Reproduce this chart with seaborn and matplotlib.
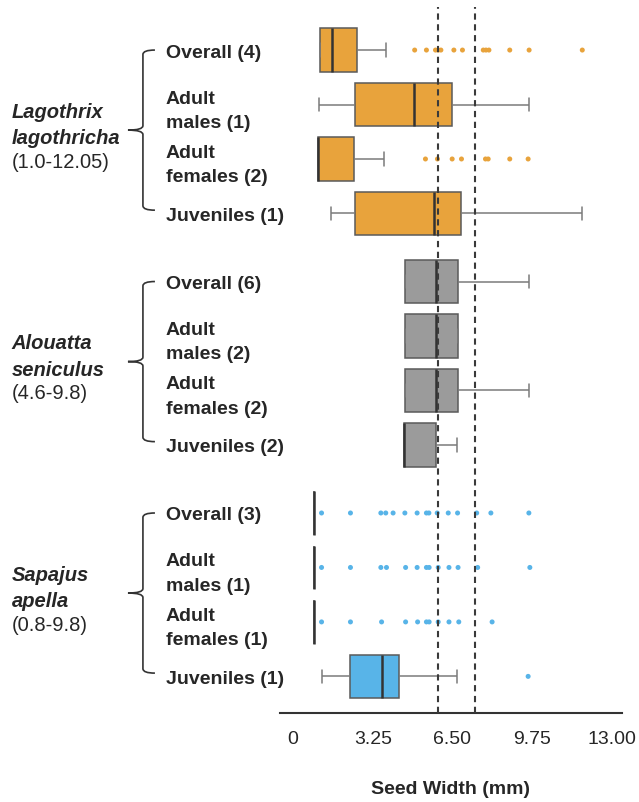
""" Seed width boxplots per primate species and age/sex class """

import numpy as np
import pandas as pd
import matplotlib.pyplot as plt
import seaborn as sns
from matplotlib.path import Path
from matplotlib.patches import PathPatch
from matplotlib.transforms import blended_transform_factory

# Species, ranges and row labels
species = ["Lagothrix lagothricha", "Alouatta seniculus", "Sapajus apella"]
species_ranges = ["(1.0-12.05)", "(4.6-9.8)", "(0.8-9.8)"]
row_labels = ["Overall (4)", "Adult\nmales (1)", "Adult\nfemales (2)", "Juveniles (1)",
              "Overall (6)", "Adult\nmales (2)", "Adult\nfemales (2)", "Juveniles (2)",
              "Overall (3)", "Adult\nmales (1)", "Adult\nfemales (1)", "Juveniles (1)"]

# Box summaries (mm): whisker low, Q1, median, Q3, whisker high
whisk_lo = [1.09, 1.06, 1.02, 1.54, 4.56, 4.56, 4.56, 4.53, 0.86, 0.86, 0.86, 1.16]
q1 = [1.09, 2.53, 1.02, 2.52, 4.56, 4.56, 4.56, 4.53, 0.86, 0.86, 0.86, 2.31]
median = [1.59, 4.95, 1.02, 5.76, 5.85, 5.85, 5.85, 4.53, 0.86, 0.86, 0.86, 3.61]
q3 = [2.59, 6.50, 2.50, 6.87, 6.72, 6.72, 6.72, 5.82, 0.86, 0.86, 0.86, 4.31]
whisk_hi = [3.77, 9.63, 3.71, 11.77, 9.63, 6.72, 9.63, 6.69, 0.86, 0.86, 0.86, 6.69]

# Outlying seeds per row
outliers = [
    [4.96, 5.44, 5.81, 5.92, 6.03, 6.56, 6.91, 7.76, 7.87, 7.99, 8.84, 9.63, 11.80],
    [],
    [5.40, 5.89, 6.49, 6.87, 7.85, 7.96, 8.84, 9.59],
    [],
    [], [], [], [],
    [1.16, 2.34, 3.58, 3.78, 4.08, 4.56, 5.06, 5.44, 5.54, 5.88, 6.33, 6.71, 7.49, 8.07, 9.62],
    [1.16, 2.34, 3.58, 3.81, 4.59, 5.06, 5.44, 5.55, 5.92, 6.36, 6.73, 7.53, 9.66],
    [1.16, 2.34, 3.61, 4.59, 5.08, 5.44, 5.55, 5.92, 6.36, 6.76, 8.12],
    [9.59],
]

# Reference lines (mm)
ref_lines = [5.92, 7.44]

palette = {"Lagothrix lagothricha": "#E8A33C", "Alouatta seniculus": "#9B9B9B", "Sapajus apella": "#58B4E8"}

# Row positions: 4 rows per species with a gap between species
n_rows = 4
gap = 1.25
positions = [g * (n_rows - 1 + gap) + r for g in range(len(species)) for r in range(n_rows)]
row_species = [s for s in species for _ in range(n_rows)]

# Long table: five values per row reproduce the box summary
box_rows = []
for i in range(len(positions)):
    for v in (whisk_lo[i], q1[i], median[i], q3[i], whisk_hi[i]):
        box_rows.append({"pos": positions[i], "species": row_species[i], "width": v})
boxDf = pd.DataFrame(box_rows)

out_rows = []
for i, vals in enumerate(outliers):
    for v in vals:
        out_rows.append({"pos": positions[i], "species": row_species[i], "width": v})
outDf = pd.DataFrame(out_rows)

sns.set_style("white")
plt.rcParams["font.family"] = ["Liberation Sans", "DejaVu Sans"]

fig = plt.figure(figsize=(6.39, 8.03), dpi=100)
ax = fig.add_axes([0.438, 0.111, 0.535, 0.879])

sns.boxplot(data=boxDf, x="width", y="pos", hue="species", palette=palette, orient="y",
            native_scale=True, width=0.8, showfliers=False, legend=False,
            linecolor="#5a5a5a", linewidth=1.1, saturation=1,
            medianprops={"color": "#333333", "linewidth": 1.8},
            whiskerprops={"color": "#7a7a7a"}, capprops={"color": "#7a7a7a"},
            capwidths=0.25, ax=ax)

sns.scatterplot(data=outDf, x="width", y="pos", hue="species", palette=palette,
                s=13, linewidth=0, legend=False, ax=ax, zorder=3)

for v in ref_lines:
    ax.axvline(v, color="#3a3a3a", linestyle=(0, (3, 2.2)), linewidth=1.5, zorder=5)

# Axes
ax.set_xlim(-0.54, 13.41)
ax.set_ylim(12.17, -0.79)
ax.set_xticks([0, 3.25, 6.5, 9.75, 13])
ax.set_xticklabels(["0", "3.25", "6.50", "9.75", "13.00"], fontsize=14)
ax.set_xlabel("Seed Width (mm)", fontsize=14, fontweight="bold", labelpad=24)
ax.tick_params(axis="x", length=4, width=1.2, color="#333333", pad=8)

ax.set_yticks(positions)
ax.set_yticklabels(row_labels, fontsize=14, fontweight="bold", ha="left", linespacing=1.55)
ax.tick_params(axis="y", length=0, pad=82)
ax.set_ylabel("")

sns.despine(ax=ax, left=True)
ax.spines["bottom"].set_color("#333333")
ax.spines["bottom"].set_linewidth(1.5)

# Species names with braces on the left
trans = blended_transform_factory(ax.transAxes, ax.transData)
x_hook, x_v, x_tip = -0.3655, -0.4006, -0.4444
r = 0.08
for g, name in enumerate(species):
    top = positions[g * n_rows]
    bot = positions[g * n_rows + n_rows - 1] - 0.06
    mid = (top + bot) / 2
    verts = [(x_hook, top), (x_v, top), (x_v, top + r),
             (x_v, mid - r), (x_v, mid), (x_tip, mid),
             (x_v, mid), (x_v, mid + r),
             (x_v, bot - r), (x_v, bot), (x_hook, bot)]
    codes = [Path.MOVETO, Path.CURVE3, Path.CURVE3,
             Path.LINETO, Path.CURVE3, Path.CURVE3,
             Path.CURVE3, Path.CURVE3,
             Path.LINETO, Path.CURVE3, Path.CURVE3]
    ax.add_patch(PathPatch(Path(verts, codes), transform=trans, fill=False,
                           edgecolor="#333333", linewidth=1.2, clip_on=False))

    genus, epithet = name.split()
    centre = np.mean(positions[g * n_rows:(g + 1) * n_rows])
    ax.text(-0.784, centre - 0.13, genus + "\n" + epithet, transform=trans, ha="left", va="center",
            fontsize=14.5, fontweight="bold", fontstyle="italic", linespacing=1.5)
    ax.text(-0.784, centre + 0.54, species_ranges[g], transform=trans, ha="left", va="center",
            fontsize=14.5)

fig.savefig("out.png", dpi=100)
